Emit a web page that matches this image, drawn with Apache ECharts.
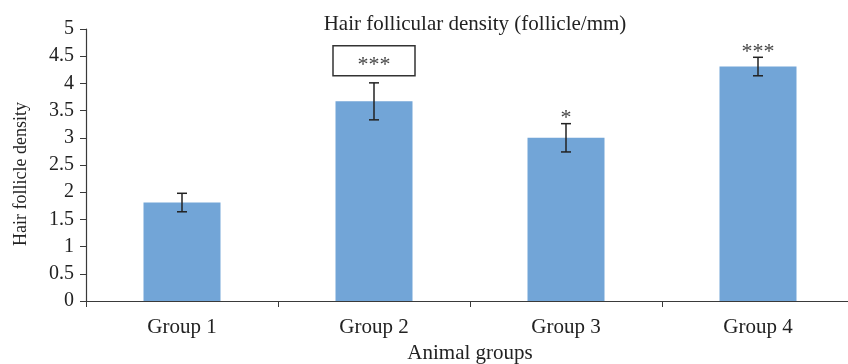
<!DOCTYPE html>
<html>
<head>
<meta charset="utf-8">
<script src="https://cdn.jsdelivr.net/npm/echarts@6/dist/echarts.min.js"></script>
<style>
  html, body { margin: 0; padding: 0; background: #fff; }
  #chart { width: 848px; height: 364px; }
</style>
</head>
<body>
<div id="chart"></div>
<script>
// Hair follicle density per animal group (mean ± SD) with significance marks
const categories = ['Group 1', 'Group 2', 'Group 3', 'Group 4'];
const meanDensity = [1.81, 3.67, 3.0, 4.31];
const sdDensity = [0.17, 0.34, 0.26, 0.17];
const significance = ['', '***', '*', '***'];
const yTicks = [0, 0.5, 1, 1.5, 2, 2.5, 3, 3.5, 4, 4.5, 5];
const boxedGroup = 'Group 2';

const FONT = '"Liberation Serif", "Times New Roman", serif';
const AXIS_COLOR = '#3a3a3a';

const chart = echarts.init(document.getElementById('chart'), null, { renderer: 'canvas' });

const errorData = categories.map((c, i) => [i, meanDensity[i], sdDensity[i]]);

function renderError(params, api) {
  const i = api.value(0);
  const m = api.value(1);
  const e = api.value(2);
  const top = api.coord([i, m + e]);
  const bot = api.coord([i, m - e]);
  const cap = 5;
  const lineStyle = { stroke: '#222', lineWidth: 1.5 };
  const children = [
    { type: 'line', shape: { x1: top[0], y1: top[1], x2: bot[0], y2: bot[1] }, style: lineStyle },
    { type: 'line', shape: { x1: top[0] - cap, y1: top[1], x2: top[0] + cap, y2: top[1] }, style: lineStyle },
    { type: 'line', shape: { x1: bot[0] - cap, y1: bot[1], x2: bot[0] + cap, y2: bot[1] }, style: lineStyle }
  ];
  const mark = significance[i];
  if (mark) {
    if (categories[i] === boxedGroup) {
      const bw = 82, bh = 30;
      const by = top[1] - 7 - bh;
      children.push({
        type: 'rect',
        shape: { x: top[0] - bw / 2, y: by, width: bw, height: bh },
        style: { fill: '#fff', stroke: '#333', lineWidth: 1.5 }
      });
      children.push({
        type: 'text',
        style: {
          text: mark, x: top[0], y: by + bh / 2 + 4,
          align: 'center', verticalAlign: 'middle',
          fill: '#444', font: '22px ' + FONT
        }
      });
    } else {
      children.push({
        type: 'text',
        style: {
          text: mark, x: top[0], y: top[1] - 5,
          align: 'center', verticalAlign: 'middle',
          fill: '#444', font: '22px ' + FONT
        }
      });
    }
  }
  return { type: 'group', children };
}

chart.setOption({
  animation: false,
  backgroundColor: '#fff',
  title: {
    text: 'Hair follicular density (follicle/mm)',
    left: 470,
    textAlign: 'center',
    top: 9,
    textStyle: { fontFamily: FONT, fontSize: 21, fontWeight: 'normal', color: '#222' }
  },
  grid: {
    left: 86, width: 768, top: 29, bottom: 63,
    containLabel: false, outerBoundsMode: 'none'
  },
  xAxis: {
    type: 'category',
    data: categories,
    name: 'Animal groups',
    nameLocation: 'middle',
    nameGap: 42,
    nameTextStyle: { fontFamily: FONT, fontSize: 21, color: '#222' },
    axisLine: { lineStyle: { color: AXIS_COLOR, width: 1.2 } },
    axisTick: { show: true, length: 6, alignWithLabel: false, lineStyle: { color: AXIS_COLOR } },
    axisLabel: { fontFamily: FONT, fontSize: 21, color: '#222', margin: 16 },
    splitLine: { show: false }
  },
  yAxis: {
    type: 'value',
    min: yTicks[0],
    max: yTicks[yTicks.length - 1],
    interval: yTicks[1] - yTicks[0],
    name: 'Hair follicle density',
    nameLocation: 'middle',
    nameGap: 56,
    nameTextStyle: { fontFamily: FONT, fontSize: 18, color: '#222', padding: [0, 18, 0, 0] },
    axisLine: { show: true, lineStyle: { color: AXIS_COLOR, width: 1.2 } },
    axisTick: { show: true, length: 6, lineStyle: { color: AXIS_COLOR } },
    axisLabel: { fontFamily: FONT, fontSize: 20, color: '#222', margin: 12 },
    splitLine: { show: false }
  },
  series: [
    {
      type: 'bar',
      data: meanDensity,
      barWidth: 77,
      itemStyle: { color: '#72A5D7' },
      z: 2
    },
    {
      type: 'custom',
      data: errorData,
      renderItem: renderError,
      z: 5
    }
  ]
});
</script>
</body>
</html>
